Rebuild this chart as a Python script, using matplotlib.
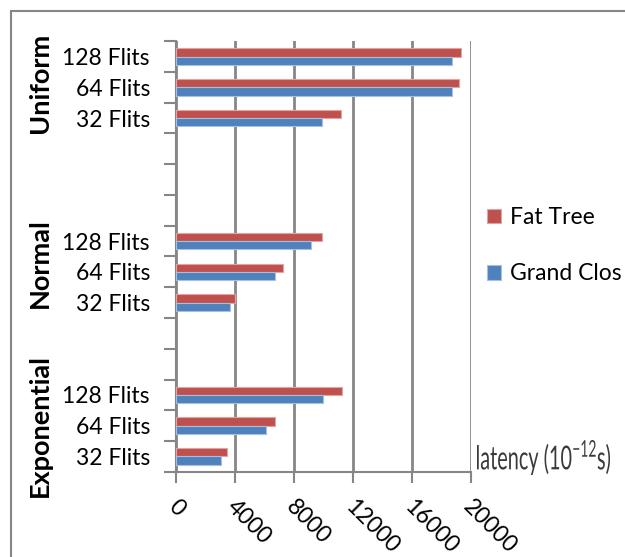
"""
Latency of Fat Tree vs Grand Clos for three traffic distributions
"""

import numpy as np
import matplotlib.pyplot as plt
from matplotlib.patches import Rectangle, PathPatch
from matplotlib.textpath import TextPath
from matplotlib.font_manager import FontProperties
from matplotlib.transforms import blended_transform_factory, Affine2D

# Rows from bottom to top; blank rows separate the traffic groups
rows = ['32 Flits', '64 Flits', '128 Flits', '', '',
        '32 Flits', '64 Flits', '128 Flits', '', '', '',
        '32 Flits', '64 Flits', '128 Flits']
fat_tree = [3500, 6720, 11280, np.nan, np.nan,
            4010, 7290, 9880, np.nan, np.nan, np.nan,
            11190, 19200, 19320]
grand_clos = [3090, 6090, 9990, np.nan, np.nan,
              3660, 6720, 9200, np.nan, np.nan, np.nan,
              9880, 18710, 18710]
groups = ['Exponential', 'Normal', 'Uniform']
group_rows = [1.0, 6.3, 12.15]
xticks = [0, 4000, 8000, 12000, 16000, 20000]

red = '#C0504D'
blue = '#4F81BD'
grey = '#868686'

plt.rcParams['font.family'] = ['Lato', 'DejaVu Sans']

fig = plt.figure(figsize=(6.25, 5.57), dpi=100)
ax = fig.add_axes([0.281, 0.153, 0.4725, 0.773])

y = np.arange(len(rows))
h = 0.27
ax.barh(y + h / 2, fat_tree, height=h, color=red, edgecolor='#E0A5A3',
        linewidth=0.8, label='Fat Tree', zorder=3)
ax.barh(y - h / 2, grand_clos, height=h, color=blue, edgecolor='#A7C0DE',
        linewidth=0.8, label='Grand Clos', zorder=3)

ax.set_xlim(0, 20000)
ax.set_ylim(-0.5, len(rows) - 0.5)

# category boundaries carry the tick marks, centres carry the labels
ax.set_yticks(np.arange(-0.5, len(rows)), labels=[])
ax.set_yticks(y, labels=rows, minor=True)
ax.tick_params(axis='y', which='major', length=9, width=1.5, color=grey)
ax.tick_params(axis='y', which='minor', length=0, pad=18.5, labelsize=16.5)

ax.set_xticks(xticks)
ax.set_xticklabels([str(v) for v in xticks], rotation=-45,
                   rotation_mode='anchor', ha='left', va='center')
ax.tick_params(axis='x', length=8, width=1.5, color=grey, pad=15,
               labelsize=16.5)
for lbl in ax.get_xticklabels():
    lbl.set_transform(lbl.get_transform() + Affine2D().translate(-4, 0))

ax.grid(axis='x', color=grey, linewidth=2, zorder=0)
for side in ['top', 'right']:
    ax.spines[side].set_visible(False)
for side in ['left', 'bottom']:
    ax.spines[side].set_color(grey)
    ax.spines[side].set_linewidth(1.5)

# group names next to the category labels
trans = blended_transform_factory(fig.transFigure, ax.transData)
for name, r in zip(groups, group_rows):
    ax.text(0.064, r, name, transform=trans, rotation=90, ha='center',
            va='center', fontsize=19.5, fontweight='bold')

leg = fig.legend(loc='upper left', bbox_to_anchor=(0.765, 0.645),
                 frameon=False, fontsize=16.5, handlelength=0.6,
                 handleheight=0.6, handletextpad=0.4, labelspacing=1.55,
                 borderaxespad=0)

# narrow axis caption: text path squeezed horizontally
caption = TextPath((0, 0), r'latency (10$^{\mathregular{-12}}$s)', size=1,
                   prop=FontProperties(family='Lato'))
ext = caption.get_extents()
sx = 133 / ext.width
sy = 35 / ext.height
place = (Affine2D().translate(-ext.x0, -ext.y0).scale(sx, sy)
         .translate(477, 82))
fig.patches.append(PathPatch(caption, transform=place, facecolor='#3A3A3A',
                             edgecolor='none'))

# outer chart border
fig.patches.append(Rectangle((11 / 625, -0.1), 1.2, 1 - 11 / 557 + 0.1,
                             transform=fig.transFigure, fill=False,
                             edgecolor=grey, linewidth=1.5))

fig.savefig('out.png', dpi=100)
